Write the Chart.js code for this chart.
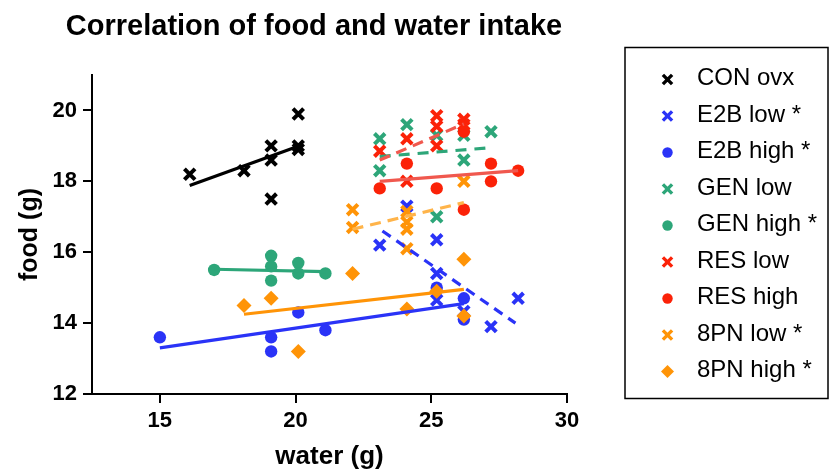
<!DOCTYPE html>
<html>
<head>
<meta charset="utf-8">
<title>Correlation of food and water intake</title>
<script src="https://cdn.jsdelivr.net/npm/chart.js@4.4.1/dist/chart.umd.min.js"></script>
<style>
  html, body { margin: 0; padding: 0; background: #fff; }
</style>
</head>
<body>
<canvas id="chart" width="833" height="470"></canvas>
<script>
// titres
const chartTitle = "Correlation of food and water intake";
const xTitle = "water (g)";
const yTitle = "food (g)";

// groupes (ordre de la légende)
const labels = ["CON ovx", "E2B low *", "E2B high *", "GEN low", "GEN high *", "RES low", "RES high", "8PN low *", "8PN high *"];

// valeurs : eau (x) et nourriture (y)
const conWater = [16.1, 18.1, 19.1, 19.1, 19.1, 20.1, 20.1, 20.1];
const conFood = [18.2, 18.3, 19.0, 18.6, 17.5, 19.9, 19.0, 18.9];
const e2bLowWater = [23.1, 24.1, 25.2, 25.2, 25.2, 26.2, 27.2, 28.2];
const e2bLowFood = [16.2, 17.3, 16.35, 15.4, 14.65, 14.33, 13.9, 14.7];
const e2bHighWater = [15.0, 19.1, 19.1, 20.1, 21.1, 25.2, 26.2, 26.2];
const e2bHighFood = [13.6, 13.6, 13.2, 14.3, 13.8, 15.0, 14.7, 14.1];
const genLowWater = [23.1, 23.1, 24.1, 25.2, 25.2, 26.2, 26.2, 27.2];
const genLowFood = [19.2, 18.3, 19.6, 19.3, 17.0, 19.3, 18.6, 19.4];
const genHighWater = [17.0, 19.1, 19.1, 19.1, 20.1, 20.1, 21.1];
const genHighFood = [15.5, 15.9, 15.6, 15.2, 15.7, 15.4, 15.4];
const resLowWater = [23.1, 24.1, 24.1, 25.2, 25.2, 25.2, 26.2, 26.2];
const resLowFood = [18.85, 19.2, 18.0, 19.85, 19.55, 19.0, 19.75, 19.6];
const resHighWater = [23.1, 24.1, 25.2, 26.2, 26.2, 27.2, 27.2, 28.2];
const resHighFood = [17.8, 18.5, 17.8, 19.4, 17.2, 18.5, 18.0, 18.3];
const pnLowWater = [22.1, 22.1, 24.1, 24.1, 24.1, 24.1, 26.2];
const pnLowFood = [17.2, 16.7, 17.15, 16.85, 16.65, 16.1, 18.0];
const pnHighWater = [18.1, 19.1, 20.1, 22.1, 24.1, 25.2, 26.2, 26.2];
const pnHighFood = [14.5, 14.7, 13.2, 15.4, 14.4, 14.9, 15.8, 14.2];

// droites de régression : extrémités
const conFitWater = [16.1, 20.2];
const conFitFood = [17.88, 19.02];
const e2bLowFitWater = [23.2, 28.1];
const e2bLowFitFood = [16.6, 14.0];
const e2bHighFitWater = [15.0, 26.2];
const e2bHighFitFood = [13.3, 14.55];
const genLowFitWater = [23.1, 27.2];
const genLowFitFood = [18.7, 18.95];
const genHighFitWater = [17.0, 21.1];
const genHighFitFood = [15.52, 15.45];
const resLowFitWater = [23.1, 26.2];
const resLowFitFood = [18.6, 19.62];
const resHighFitWater = [23.1, 28.2];
const resHighFitFood = [18.0, 18.3];
const pnLowFitWater = [22.1, 26.2];
const pnLowFitFood = [16.65, 17.4];
const pnHighFitWater = [18.1, 26.2];
const pnHighFitFood = [14.25, 14.95];

// axes
const xMin = 12.5, xMax = 30, xStep = 5;
const yMin = 12, yMax = 21, yStep = 2;

const FONT = '"Liberation Sans", Arial, sans-serif';
const BLACK = "#000000";
const BLUE = "#2a33f7";
const GREEN = "#2da679";
const RED = "#fb2208";
const ORANGE = "#ff9407";

function pts(xs, ys) {
    return xs.map((x, i) => ({ x: x, y: ys[i] }));
}

const groups = [
    { label: labels[0], data: pts(conWater, conFood), fit: pts(conFitWater, conFitFood), color: BLACK, line: BLACK, style: "crossRot", dash: [] },
    { label: labels[1], data: pts(e2bLowWater, e2bLowFood), fit: pts(e2bLowFitWater, e2bLowFitFood), color: BLUE, line: BLUE, style: "crossRot", dash: [10, 7] },
    { label: labels[2], data: pts(e2bHighWater, e2bHighFood), fit: pts(e2bHighFitWater, e2bHighFitFood), color: BLUE, line: BLUE, style: "circle", dash: [] },
    { label: labels[3], data: pts(genLowWater, genLowFood), fit: pts(genLowFitWater, genLowFitFood), color: GREEN, line: GREEN, style: "crossRot", dash: [11, 8] },
    { label: labels[4], data: pts(genHighWater, genHighFood), fit: pts(genHighFitWater, genHighFitFood), color: GREEN, line: GREEN, style: "circle", dash: [] },
    { label: labels[5], data: pts(resLowWater, resLowFood), fit: pts(resLowFitWater, resLowFitFood), color: RED, line: "#f0584e", style: "crossRot", dash: [11, 7] },
    { label: labels[6], data: pts(resHighWater, resHighFood), fit: pts(resHighFitWater, resHighFitFood), color: RED, line: "#f0584e", style: "circle", dash: [] },
    { label: labels[7], data: pts(pnLowWater, pnLowFood), fit: pts(pnLowFitWater, pnLowFitFood), color: ORANGE, line: "#ffb44a", style: "crossRot", dash: [11, 7] },
    { label: labels[8], data: pts(pnHighWater, pnHighFood), fit: pts(pnHighFitWater, pnHighFitFood), color: ORANGE, line: ORANGE, style: "rectRot", dash: [] }
];

function markerRadius(style) {
    if (style === "crossRot") return 7.5;
    if (style === "rectRot") return 7.5;
    return 6.2;
}

let datasets = [];
groups.forEach((g, i) => {
    datasets.push({
        label: g.label,
        data: g.data,
        pointStyle: g.style,
        pointRadius: markerRadius(g.style),
        pointBorderWidth: g.style === "crossRot" ? 4 : 0,
        pointBackgroundColor: g.color,
        pointBorderColor: g.color,
        showLine: false,
        order: 200 - i
    });
    datasets.push({
        label: g.label + " fit",
        data: g.fit,
        showLine: true,
        borderColor: g.line,
        borderWidth: 3.2,
        borderDash: g.dash,
        pointRadius: 0,
        fill: false,
        order: 100 - i
    });
});

// titre + légende encadrée
const decor = {
    id: "decor",
    afterDraw(chart) {
        const ctx = chart.ctx;
        ctx.save();
        ctx.fillStyle = BLACK;
        ctx.font = "bold 29px " + FONT;
        ctx.textAlign = "center";
        ctx.textBaseline = "middle";
        ctx.fillText(chartTitle, 314, 27);

        ctx.lineWidth = 1.5;
        ctx.strokeStyle = BLACK;
        ctx.strokeRect(625, 47.5, 203, 351);

        ctx.font = "24px " + FONT;
        ctx.textAlign = "left";
        groups.forEach((g, i) => {
            const y = 79.5 + i * 36.5;
            ctx.fillStyle = g.color;
            ctx.strokeStyle = g.color;
            ctx.lineWidth = 3.4;
            Chart.helpers.drawPoint(ctx, {
                pointStyle: g.style,
                radius: g.style === "crossRot" ? 6.5 : (g.style === "rectRot" ? 6.5 : 5.2),
                borderWidth: g.style === "crossRot" ? 3.4 : 0,
                rotation: 0
            }, 667.5, y);
            ctx.fillStyle = BLACK;
            ctx.fillText(g.label, 697, y - 1);
        });
        ctx.restore();
    }
};

new Chart(document.getElementById("chart"), {
    type: "scatter",
    data: { datasets: datasets },
    options: {
        responsive: false,
        animation: false,
        layout: { padding: { top: 75, right: 266, left: 0, bottom: 0 } },
        plugins: {
            legend: { display: false },
            tooltip: { enabled: false },
            title: { display: false }
        },
        scales: {
            x: {
                type: "linear",
                min: xMin,
                max: xMax,
                ticks: { stepSize: xStep, includeBounds: false, color: BLACK, padding: 5, font: { family: FONT, size: 22, weight: "bold" } },
                grid: { drawOnChartArea: false, drawTicks: true, tickLength: 9, color: BLACK, lineWidth: 2 },
                border: { color: BLACK, width: 2 },
                title: { display: true, text: xTitle, color: BLACK, padding: { top: 0, bottom: 0 }, font: { family: FONT, size: 26, weight: "bold", lineHeight: 1 } },
                afterFit(s) { s.height = 76; }
            },
            y: {
                type: "linear",
                min: yMin,
                max: yMax,
                ticks: { stepSize: yStep, includeBounds: false, color: BLACK, padding: 6, font: { family: FONT, size: 22, weight: "bold" } },
                grid: { drawOnChartArea: false, drawTicks: true, tickLength: 9, color: BLACK, lineWidth: 2 },
                border: { color: BLACK, width: 2 },
                title: { display: true, text: yTitle, color: BLACK, padding: { top: 18, bottom: 0 }, font: { family: FONT, size: 25, weight: "bold", lineHeight: 1 } },
                afterFit(s) { s.width = 92; }
            }
        }
    },
    plugins: [decor]
});
</script>
</body>
</html>
